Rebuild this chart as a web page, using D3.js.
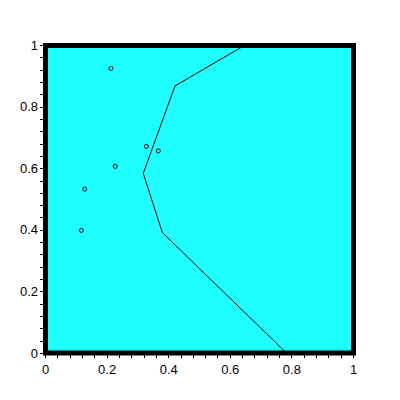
<!DOCTYPE html>
<html>
<head>
<meta charset="utf-8">
<script src="https://cdn.jsdelivr.net/npm/d3@7"></script>
<style>
  body { margin: 0; background: #fff; }
  svg { display: block; }
  text { font-family: "Liberation Sans", Arial, sans-serif; font-size: 13px; fill: #000; }
</style>
</head>
<body>
<svg id="chart" width="400" height="400"></svg>
<script>
// Data
const pointX = [0.214, 0.329, 0.368, 0.228, 0.129, 0.118];
const pointY = [0.924, 0.671, 0.656, 0.606, 0.532, 0.398];
const lineX = [0.65, 0.422, 0.319, 0.381, 0.784];
const lineY = [1.0, 0.867, 0.583, 0.391, 0.0];
const majorTicks = [0, 0.2, 0.4, 0.6, 0.8, 1];
const tickLabels = ["0", "0.2", "0.4", "0.6", "0.8", "1"];
const minorTicks = d3.range(0, 26).map(i => i * 0.04);

const svg = d3.select("#chart");
const x = d3.scaleLinear().domain([0, 1]).range([45, 353]);
const y = d3.scaleLinear().domain([0, 1]).range([353, 45]);

// background
svg.append("rect")
  .attr("x", x(0)).attr("y", y(1))
  .attr("width", x(1) - x(0)).attr("height", y(0) - y(1))
  .attr("fill", "#1effff");

// line
const line = d3.line().x(d => x(d[0])).y(d => y(d[1]));
svg.append("path")
  .datum(lineX.map((v, i) => [v, lineY[i]]))
  .attr("d", line)
  .attr("fill", "none")
  .attr("stroke", "#000")
  .attr("stroke-width", 1);

// points
svg.selectAll("circle.pt")
  .data(pointX.map((v, i) => [v, pointY[i]]))
  .enter().append("circle")
  .attr("class", "pt")
  .attr("cx", d => x(d[0]))
  .attr("cy", d => y(d[1]))
  .attr("r", 2)
  .attr("fill", "none")
  .attr("stroke", "#000")
  .attr("stroke-width", 1);

// thick frame
svg.append("rect")
  .attr("x", x(0) + 0.5).attr("y", y(1) + 0.5)
  .attr("width", x(1) - x(0)).attr("height", y(0) - y(1) - 0.5)
  .attr("fill", "none")
  .attr("stroke", "#000")
  .attr("stroke-width", 5);

// y axis minor ticks
const yMinor = svg.append("g")
  .attr("transform", "translate(43,0)")
  .call(d3.axisLeft(y).tickValues(minorTicks).tickSize(3).tickFormat(""));
yMinor.select(".domain").remove();
yMinor.selectAll("line").attr("stroke", "#000").attr("shape-rendering", "crispEdges");

// y axis labels
const yMajor = svg.append("g")
  .attr("transform", "translate(43,0)")
  .call(d3.axisLeft(y).tickValues(majorTicks).tickSize(3).tickPadding(2)
    .tickFormat((d, i) => tickLabels[i]));
yMajor.select(".domain").remove();
yMajor.selectAll("line").attr("stroke", "#000").attr("shape-rendering", "crispEdges");
yMajor.selectAll("text").attr("font-size", 13).attr("font-family", "Liberation Sans, Arial, sans-serif");

// x axis minor ticks
const xMinor = svg.append("g")
  .attr("transform", "translate(0,355)")
  .call(d3.axisBottom(x).tickValues(minorTicks).tickSize(3).tickFormat(""));
xMinor.select(".domain").remove();
xMinor.selectAll("line").attr("stroke", "#000").attr("shape-rendering", "crispEdges");

// x axis labels
const xMajor = svg.append("g")
  .attr("transform", "translate(0,355)")
  .call(d3.axisBottom(x).tickValues(majorTicks).tickSize(3).tickPadding(7)
    .tickFormat((d, i) => tickLabels[i]));
xMajor.select(".domain").remove();
xMajor.selectAll("line").attr("stroke", "#000").attr("shape-rendering", "crispEdges");
xMajor.selectAll("text").attr("font-size", 13).attr("font-family", "Liberation Sans, Arial, sans-serif");
</script>
</body>
</html>
